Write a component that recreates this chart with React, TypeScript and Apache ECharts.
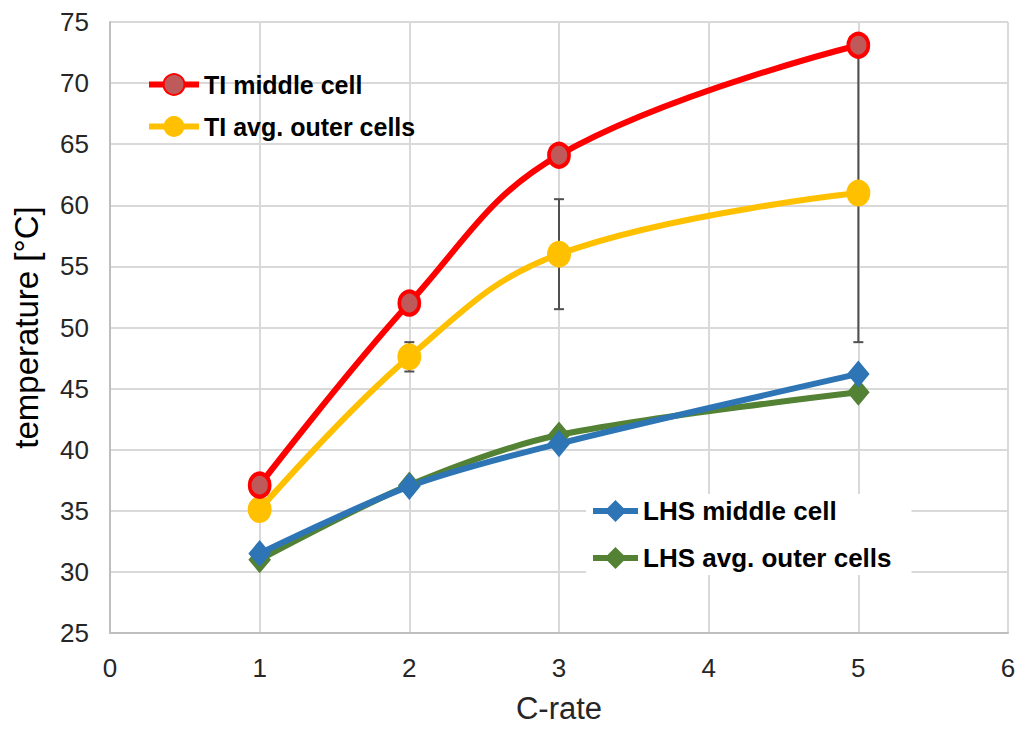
import React, { useEffect, useRef } from "react";
import * as echarts from "echarts";

const cRate = [1, 2, 3, 5];
const tiMiddle = [37.1, 52, 64.1, 73.1];
const tiOuter = [35.1, 47.6, 56, 61];
const lhsMiddle = [31.5, 37, 40.5, 46.2];
const lhsOuter = [31, 37.1, 41.2, 44.7];
const tiOuterErr = [0, 1.2, 4.5, 12.2];
const xTicks = [0, 1, 2, 3, 4, 5, 6];
const yTicks = [25, 30, 35, 40, 45, 50, 55, 60, 65, 70, 75];

const FONT = "Liberation Sans, Arial, sans-serif";

export default function App() {
  const ref = useRef<HTMLDivElement>(null);
  useEffect(() => {
    if (!ref.current) return;
    const chart = echarts.init(ref.current, null, { renderer: "svg" });
    const pairs = (ys: number[]) => cRate.map((x, i) => [x, ys[i]]);
    const errData = cRate
      .map((x, i) => [x, tiOuter[i] - tiOuterErr[i], tiOuter[i] + tiOuterErr[i]])
      .filter((d, i) => tiOuterErr[i] > 0);
    const legendText = { fontWeight: "bold", color: "#000", fontFamily: FONT };
    chart.setOption({
      animation: false,
      backgroundColor: "#ffffff",
      grid: { left: 110, right: 18, top: 22, bottom: 97, outerBoundsMode: "none", containLabel: false },
      xAxis: {
        type: "value",
        min: xTicks[0],
        max: xTicks[xTicks.length - 1],
        interval: 1,
        name: "C-rate",
        nameLocation: "middle",
        nameGap: 60,
        nameTextStyle: { fontSize: 31, color: "#262626", fontFamily: FONT },
        axisLine: { show: true, lineStyle: { color: "#bfbfbf", width: 2 } },
        axisTick: { show: false },
        axisLabel: { fontSize: 26, color: "#262626", fontFamily: FONT, margin: 22 },
        splitLine: { show: true, lineStyle: { color: "#d9d9d9", width: 2 } },
      },
      yAxis: {
        type: "value",
        min: yTicks[0],
        max: yTicks[yTicks.length - 1],
        interval: 5,
        name: "temperature [°C]",
        nameLocation: "middle",
        nameGap: 67,
        nameRotate: 90,
        nameTextStyle: { fontSize: 33, color: "#000000", fontFamily: FONT },
        axisLine: { show: true, lineStyle: { color: "#bfbfbf", width: 2 } },
        axisTick: { show: false },
        axisLabel: { fontSize: 26, color: "#262626", fontFamily: FONT, margin: 21 },
        splitLine: { show: true, lineStyle: { color: "#d9d9d9", width: 2 } },
      },
      legend: [
        {
          data: ["TI middle cell", "TI avg. outer cells"],
          orient: "vertical",
          left: 141,
          top: 67,
          itemWidth: 50,
          itemHeight: 26,
          itemGap: 17,
          lineStyle: { width: 6 },
          textStyle: { ...legendText, fontSize: 25 },
        },
        {
          data: ["LHS middle cell", "LHS avg. outer cells"],
          orient: "vertical",
          left: 586,
          top: 494,
          itemWidth: 45,
          itemHeight: 24,
          itemGap: 21,
          lineStyle: { width: 6 },
          backgroundColor: "#ffffff",
          padding: [4, 20, 4, 4],
          textStyle: { ...legendText, fontSize: 26 },
        },
      ],
      series: [
        {
          type: "custom",
          name: "err",
          z: 1,
          data: errData,
          renderItem: (params: any, api: any) => {
            const x = api.value(0);
            const lo = api.coord([x, api.value(1)]);
            const hi = api.coord([x, api.value(2)]);
            const cap = 5;
            const style = { stroke: "#505050", lineWidth: 2 };
            return {
              type: "group",
              children: [
                { type: "line", shape: { x1: lo[0], y1: lo[1], x2: hi[0], y2: hi[1] }, style },
                { type: "line", shape: { x1: lo[0] - cap, y1: lo[1], x2: lo[0] + cap, y2: lo[1] }, style },
                { type: "line", shape: { x1: hi[0] - cap, y1: hi[1], x2: hi[0] + cap, y2: hi[1] }, style },
              ],
            };
          },
        },
        {
          name: "LHS avg. outer cells",
          type: "line",
          smooth: 0.3,
          data: pairs(lhsOuter),
          symbol: "diamond",
          symbolSize: [20, 24],
          z: 3,
          lineStyle: { color: "#548235", width: 6 },
          itemStyle: { color: "#548235", borderColor: "#548235", borderWidth: 2 },
        },
        {
          name: "LHS middle cell",
          type: "line",
          smooth: 0.3,
          data: pairs(lhsMiddle),
          symbol: "diamond",
          symbolSize: [20, 24],
          z: 3,
          lineStyle: { color: "#2e75b6", width: 6 },
          itemStyle: { color: "#2e75b6", borderColor: "#2e75b6", borderWidth: 2 },
        },
        {
          name: "TI avg. outer cells",
          type: "line",
          smooth: 0.4,
          data: pairs(tiOuter),
          symbol: "circle",
          symbolSize: [24, 27],
          z: 4,
          lineStyle: { color: "#ffc000", width: 6 },
          itemStyle: { color: "#ffc000" },
        },
        {
          name: "TI middle cell",
          type: "line",
          smooth: 0.4,
          data: pairs(tiMiddle),
          symbol: "circle",
          symbolSize: [20, 23],
          z: 5,
          lineStyle: { color: "#ff0000", width: 6 },
          itemStyle: { color: "#bf5a5a", borderColor: "#ff0000", borderWidth: 4 },
        },
      ],
    });
    return () => chart.dispose();
  }, []);
  return <div ref={ref} style={{ width: 1026, height: 730, margin: -8 }} />;
}
